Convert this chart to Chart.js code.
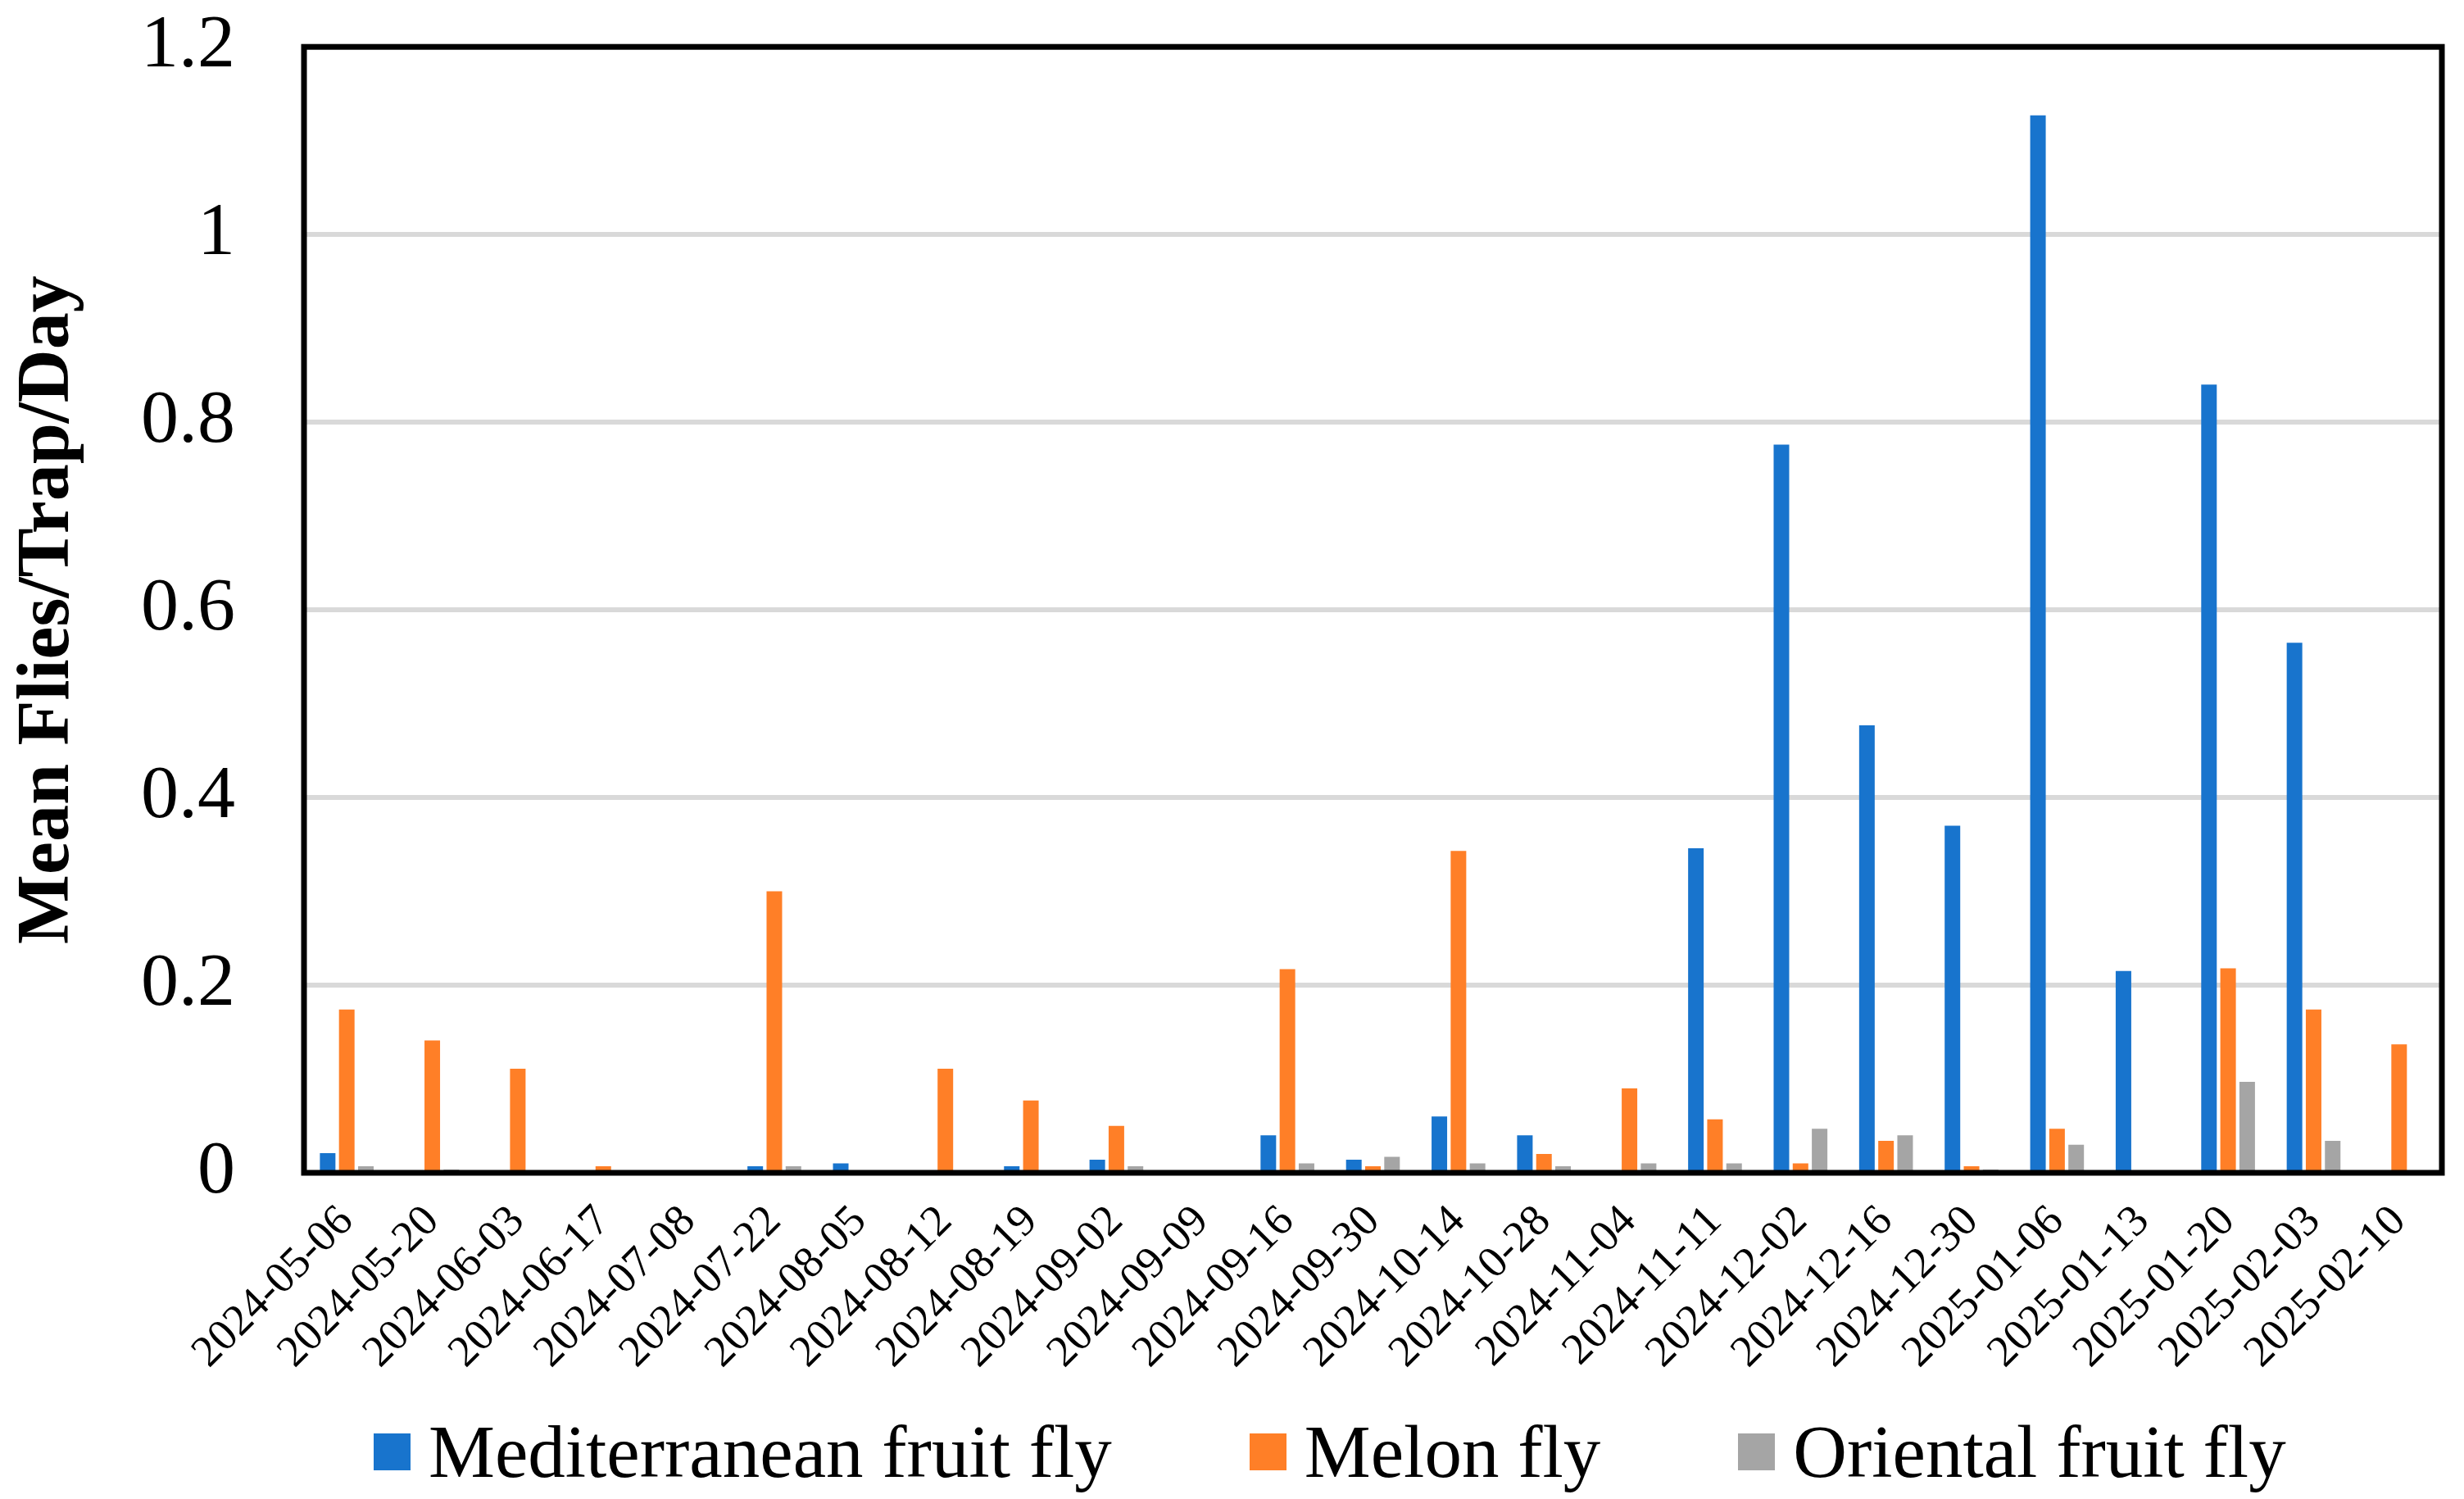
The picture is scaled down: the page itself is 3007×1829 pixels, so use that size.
<!DOCTYPE html>
<html>
<head>
<meta charset="utf-8">
<title>Mean Flies/Trap/Day</title>
<script src="https://cdn.jsdelivr.net/npm/chart.js@4.4.1/dist/chart.umd.min.js"></script>
<style>
  html, body { margin: 0; padding: 0; background: #fff; }
  #wrap { position: relative; width: 3007px; height: 1829px; }
  #chartBox { position: absolute; left: 0; top: 0; width: 3007px; height: 1700px; }
  #legend { position: absolute; left: 456px; top: 1726px; display: flex; align-items: center;
            font-family: 'Liberation Serif', 'Times New Roman', serif; font-size: 91px; line-height: 1; color: #000; }
  #legend .item { display: flex; align-items: center; margin-right: 168px; }
  #legend .swatch { width: 45px; height: 45px; margin-right: 22px; }
</style>
</head>
<body>
<div id="wrap">
  <div id="chartBox"><canvas id="chFlies"></canvas></div>
  <div id="legend"></div>
</div>
<script>
// sampling dates (x categories)
const categories = [
  '2024-05-06', '2024-05-20', '2024-06-03', '2024-06-17', '2024-07-08', '2024-07-22',
  '2024-08-05', '2024-08-12', '2024-08-19', '2024-09-02', '2024-09-09', '2024-09-16',
  '2024-09-30', '2024-10-14', '2024-10-28', '2024-11-04', '2024-11-11', '2024-12-02',
  '2024-12-16', '2024-12-30', '2025-01-06', '2025-01-13', '2025-01-20', '2025-02-03',
  '2025-02-10'
];

// mean flies / trap / day
const medfly = [0.021, 0, 0, 0, 0, 0.007, 0.010, 0, 0.007, 0.014, 0, 0.040, 0.014,
  0.060, 0.040, 0, 0.346, 0.776, 0.477, 0.370, 1.127, 0.215, 0.840, 0.565, 0];
const melonFly = [0.174, 0.141, 0.111, 0.007, 0, 0.300, 0, 0.111, 0.077, 0.050, 0, 0.217, 0.007,
  0.343, 0.020, 0.090, 0.057, 0.010, 0.034, 0.007, 0.047, 0, 0.218, 0.174, 0.137];
const orientalFly = [0.007, 0.0035, 0, 0, 0, 0.007, 0, 0, 0, 0.007, 0, 0.010, 0.017,
  0.010, 0.007, 0.010, 0.010, 0.047, 0.040, 0.0035, 0.030, 0, 0.097, 0.034, 0];

const seriesNames = ['Mediterranean fruit fly', 'Melon fly', 'Oriental fruit fly'];
const seriesColors = ['#1874cd', '#ff7f27', '#a5a5a5'];
const yTickLabels = ['0', '0.2', '0.4', '0.6', '0.8', '1', '1.2'];

const serif = "'Liberation Serif', 'Times New Roman', serif";
const CANVAS_H = 1700;
const PLOT_BOTTOM = 1431;

// black box round the plot area
const framePlugin = {
  id: 'frame',
  afterDraw(chart) {
    const { ctx, chartArea: a } = chart;
    ctx.save();
    ctx.strokeStyle = '#000';
    ctx.lineWidth = 7;
    ctx.strokeRect(a.left, a.top, a.right - a.left, a.bottom - a.top);
    ctx.restore();
  }
};

// legend as html under the canvas, items come from Chart.js
const htmlLegend = {
  id: 'htmlLegend',
  afterUpdate(chart) {
    const box = document.getElementById('legend');
    box.innerHTML = '';
    chart.options.plugins.legend.labels.generateLabels(chart).forEach(it => {
      const el = document.createElement('div');
      el.className = 'item';
      const sw = document.createElement('span');
      sw.className = 'swatch';
      sw.style.background = it.fillStyle;
      const tx = document.createElement('span');
      tx.textContent = it.text;
      el.appendChild(sw);
      el.appendChild(tx);
      box.appendChild(el);
    });
  }
};

const seriesData = [medfly, melonFly, orientalFly];
const flyData = {
  labels: categories,
  datasets: seriesData.map((d, i) => ({
    label: seriesNames[i],
    data: d,
    backgroundColor: seriesColors[i],
    borderWidth: 0,
    barPercentage: 0.815,
    categoryPercentage: 0.67
  }))
};

const flyOpts = {
  responsive: true, maintainAspectRatio: false, animation: false, devicePixelRatio: 1,
  layout: { padding: { top: 57, right: 27, left: 0, bottom: 0 } },
  plugins: {
    legend: { display: false },
    tooltip: { enabled: false }
  },
  scales: {
    x: {
      grid: { display: false },
      border: { display: false },
      ticks: { color: '#000', font: { family: serif, size: 54 }, minRotation: 45, maxRotation: 45, autoSkip: false, padding: 20 },
      afterFit: s => { s.height = CANVAS_H - PLOT_BOTTOM; }
    },
    y: {
      min: 0, max: 1.2,
      // tick marks kept invisible, their length gives the gap to the labels
      grid: { color: '#d9d9d9', lineWidth: 6, drawTicks: true, tickLength: 82, tickColor: 'rgba(0,0,0,0)' },
      border: { display: false },
      ticks: { stepSize: 0.2, color: '#000', font: { family: serif, size: 92 }, padding: 2, callback: (v, i) => yTickLabels[i] },
      title: { display: true, text: 'Mean Flies/Trap/Day', color: '#000', font: { family: serif, size: 90, weight: 'bold' }, padding: { top: 6, bottom: 0 } },
      afterFit: s => { s.width = 371; }
    }
  }
};

new Chart(document.getElementById('chFlies'), { type: 'bar', data: flyData, options: flyOpts, plugins: [framePlugin, htmlLegend] });
</script>
</body>
</html>
